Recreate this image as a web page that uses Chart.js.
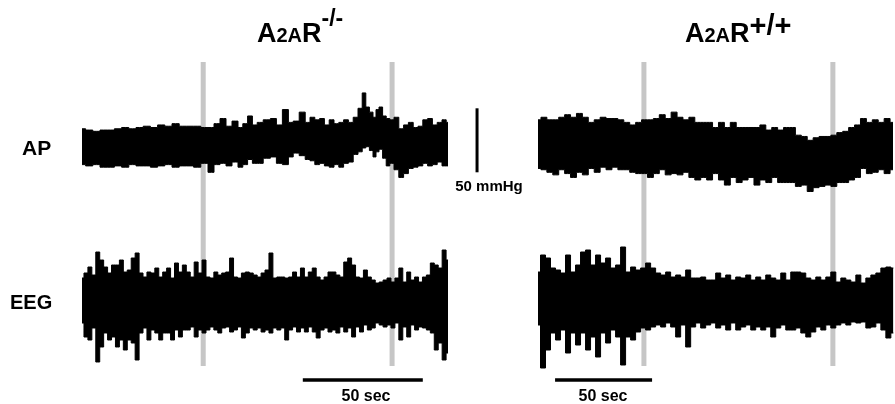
<!DOCTYPE html>
<html>
<head>
<meta charset="utf-8">
<script src="https://cdn.jsdelivr.net/npm/chart.js@4.4.1/dist/chart.umd.min.js"></script>
<style>
  body { margin: 0; background: #fff; }
  #wrap { position: relative; width: 895px; height: 404px; }
</style>
</head>
<body>
<div id="wrap"><canvas id="trace" width="895" height="404"></canvas></div>
<script>
// AP in mmHg, EEG in uV (arbitrary zero), time in s from the start of each trace.
// ko = A2AR-/- (left panel), wt = A2AR+/+ (right panel)

const koApTime = [0, 3, 6, 9, 12, 15, 18, 21, 24, 27, 30, 33, 36, 39, 42, 45, 48, 51, 54, 56,
  59, 61, 64, 66, 68, 70, 72, 74, 77, 80, 82, 85, 87, 89, 92, 94, 96, 98, 100, 102,
  104, 106, 108, 110, 112, 114, 116, 117.5, 119, 120.5, 122, 123, 124.5, 126, 127.5, 129, 131, 133, 135, 137,
  139, 141, 143, 145, 147, 149, 151, 152.5];
const koApHigh = [115, 114, 113, 114, 114, 115, 116, 115, 116, 117, 116, 118, 117, 119, 117, 117, 117, 116, 116, 119,
  123, 117, 121, 116, 119, 125, 118, 120, 122, 123, 118, 130, 120, 121, 128, 120, 124, 122, 123, 118,
  122, 119, 120, 122, 120, 124, 131, 143, 132, 128, 124, 130, 132, 125, 123, 122, 124, 115, 118, 120,
  116, 117, 122, 123, 118, 120, 122, 120];
const koApLow = [87, 86, 87, 85, 85, 86, 85, 87, 86, 86, 85, 86, 87, 85, 86, 86, 85, 88, 81, 87,
  88, 86, 89, 85, 87, 91, 88, 88, 92, 93, 88, 87, 93, 96, 94, 91, 90, 87, 88, 86,
  85, 87, 85, 88, 89, 95, 97, 100, 101, 98, 93, 97, 99, 92, 86, 88, 83, 77, 80, 84,
  85, 86, 88, 86, 87, 89, 86, 86];

const koEegStep = 1.64;
const koEegHigh = [22, 27, 33, 25, 48, 40, 33, 27, 35, 35, 40, 28, 30, 42, 47, 27, 23, 28, 27, 32,
  23, 28, 32, 22, 37, 28, 35, 28, 23, 38, 27, 40, 23, 22, 28, 25, 27, 28, 42, 23,
  22, 27, 28, 27, 25, 23, 27, 30, 47, 22, 23, 23, 22, 23, 28, 23, 32, 23, 28, 32,
  23, 20, 23, 28, 28, 25, 23, 38, 42, 35, 23, 22, 30, 23, 20, 17, 18, 20, 22, 18,
  22, 32, 18, 28, 20, 23, 18, 23, 25, 37, 35, 32, 50, 40];
const koEegLow = [-23, -37, -40, -28, -62, -47, -33, -40, -37, -47, -40, -50, -40, -43, -60, -33, -28, -40, -30, -33,
  -40, -33, -33, -40, -30, -37, -30, -30, -27, -37, -30, -33, -30, -27, -30, -33, -28, -27, -32, -30,
  -27, -38, -33, -28, -30, -28, -32, -30, -33, -28, -30, -28, -40, -30, -27, -32, -28, -32, -27, -32,
  -38, -30, -28, -32, -30, -33, -27, -32, -28, -37, -27, -32, -25, -30, -28, -23, -25, -27, -25, -28,
  -23, -40, -27, -37, -25, -30, -27, -28, -30, -33, -50, -43, -60, -53];

const wtApStep = 3.05;
const wtApHigh = [122, 124, 122, 122, 124, 126, 124, 127, 124, 120, 122, 124, 123, 123, 122, 120, 118, 120, 122, 122,
  123, 126, 123, 128, 124, 122, 124, 120, 120, 120, 116, 120, 116, 120, 116, 116, 116, 116, 118, 114,
  116, 114, 116, 116, 110, 109, 106, 108, 109, 109, 110, 112, 113, 116, 118, 123, 120, 122, 120, 123,
  120];
const wtApLow = [84, 83, 81, 79, 83, 80, 77, 81, 79, 84, 81, 85, 83, 85, 83, 83, 81, 80, 80, 77,
  80, 83, 79, 80, 79, 81, 77, 75, 77, 75, 80, 75, 71, 77, 73, 75, 77, 71, 75, 73,
  77, 73, 73, 73, 70, 71, 66, 69, 70, 71, 70, 73, 73, 75, 77, 84, 80, 81, 83, 80,
  83];

const wtEegStep = 2.58;
const wtEegHigh = [28, 45, 42, 32, 30, 27, 45, 28, 35, 48, 50, 35, 45, 37, 42, 32, 35, 53, 28, 33,
  30, 32, 37, 32, 27, 25, 28, 23, 25, 23, 30, 22, 22, 23, 20, 20, 27, 22, 25, 20,
  23, 22, 25, 20, 23, 20, 25, 22, 20, 27, 20, 28, 28, 27, 22, 20, 23, 20, 23, 28,
  18, 22, 20, 18, 25, 17, 22, 25, 27, 32, 33, 32];
const wtEegLow = [-25, -68, -50, -33, -40, -30, -53, -33, -45, -33, -50, -37, -57, -33, -43, -30, -37, -65, -37, -40,
  -32, -28, -30, -27, -25, -27, -23, -27, -37, -25, -47, -27, -23, -28, -25, -23, -28, -25, -30, -23,
  -30, -27, -25, -30, -27, -30, -27, -37, -28, -25, -30, -30, -28, -33, -37, -32, -27, -30, -25, -28,
  -25, -23, -25, -22, -23, -22, -28, -27, -23, -30, -38, -33];

const koMarks = [50.5, 129.2];
const wtMarks = [54.6, 152];
const markSpan = [238, -66]; // EEG units, runs through both rows
const apBar = [81, 131]; // 50 mmHg
const apBarTime = 164.6;
const koSecBar = [92, 142]; // 50 sec
const wtSecBar = [8.8, 58.8]; // 50 sec
const secBarLevel = -80;

const stepTimes = (n, step) => Array.from({ length: n }, (_, i) => i * step);

function band(xAxis, yAxis, times, high, low) {
  const line = { xAxisID: xAxis, yAxisID: yAxis, borderColor: "#000", borderWidth: 1,
    pointRadius: 0, stepped: "middle", order: 1 };
  return [
    Object.assign({}, line, { data: high.map((v, i) => ({ x: times[i], y: v })), fill: false }),
    Object.assign({}, line, { data: low.map((v, i) => ({ x: times[i], y: v })), fill: "-1", backgroundColor: "#000" }),
  ];
}

function segment(xAxis, yAxis, points, color, width, order) {
  return { xAxisID: xAxis, yAxisID: yAxis, data: points, borderColor: color, borderWidth: width,
    pointRadius: 0, fill: false, order: order, borderCapStyle: "butt" };
}

const datasets = [];
koMarks.forEach((t) => datasets.push(segment("xKo", "yEeg", markSpan.map((y) => ({ x: t, y })), "#c6c6c6", 5, 5)));
wtMarks.forEach((t) => datasets.push(segment("xWt", "yEeg", markSpan.map((y) => ({ x: t, y })), "#c6c6c6", 5, 5)));
datasets.push(...band("xKo", "yAp", koApTime, koApHigh, koApLow));
datasets.push(...band("xKo", "yEeg", stepTimes(koEegHigh.length, koEegStep), koEegHigh, koEegLow));
datasets.push(...band("xWt", "yAp", stepTimes(wtApHigh.length, wtApStep), wtApHigh, wtApLow));
datasets.push(...band("xWt", "yEeg", stepTimes(wtEegHigh.length, wtEegStep), wtEegHigh, wtEegLow));
datasets.push(segment("xKo", "yAp", apBar.map((y) => ({ x: apBarTime, y })), "#000", 3, 0));
datasets.push(segment("xKo", "yEeg", koSecBar.map((x) => ({ x, y: secBarLevel })), "#000", 3.5, 0));
datasets.push(segment("xWt", "yEeg", wtSecBar.map((x) => ({ x, y: secBarLevel })), "#000", 3.5, 0));

const FONT = '"Liberation Sans", Arial, Helvetica, sans-serif';

function richText(ctx, x, base, parts) {
  parts.forEach(([txt, size, rise]) => {
    ctx.font = `bold ${size}px ${FONT}`;
    ctx.fillText(txt, x, base - rise);
    x += ctx.measureText(txt).width;
  });
}

const labels = {
  id: "labels",
  afterDraw(chart) {
    const ctx = chart.ctx;
    ctx.save();
    ctx.fillStyle = "#000";
    ctx.textBaseline = "alphabetic";
    ctx.textAlign = "left";
    richText(ctx, 257, 42, [["A", 27, 0], ["2A", 20, 0], ["R", 27, 0], ["-/-", 23, 16.5]]);
    richText(ctx, 685, 42, [["A", 27, 0], ["2A", 20, 0], ["R", 27, 0], ["+/+", 29, 7]]);
    ctx.font = `bold 21px ${FONT}`;
    ctx.fillText("AP", 22, 155);
    ctx.font = `bold 20px ${FONT}`;
    ctx.fillText("EEG", 10, 309);
    ctx.font = `bold 15px ${FONT}`;
    ctx.textAlign = "center";
    ctx.fillText("50 mmHg", 489, 191);
    ctx.font = `bold 16px ${FONT}`;
    ctx.fillText("50 sec", 366, 401);
    ctx.fillText("50 sec", 603, 401);
    ctx.restore();
  },
};

new Chart(document.getElementById("trace"), {
  type: "line",
  data: { datasets },
  options: {
    responsive: false,
    animation: false,
    devicePixelRatio: 1,
    layout: { padding: 0 },
    scales: {
      xKo: { type: "linear", display: false, min: -34.17, max: 338.75 },
      xWt: { type: "linear", display: false, min: -277.32, max: 184.02 },
      yAp: { type: "linear", display: false, min: -100, max: 215.6 },
      yEeg: { type: "linear", display: false, min: -104, max: 300 },
    },
    plugins: { legend: { display: false }, tooltip: { enabled: false } },
  },
  plugins: [labels],
});
</script>
</body>
</html>
